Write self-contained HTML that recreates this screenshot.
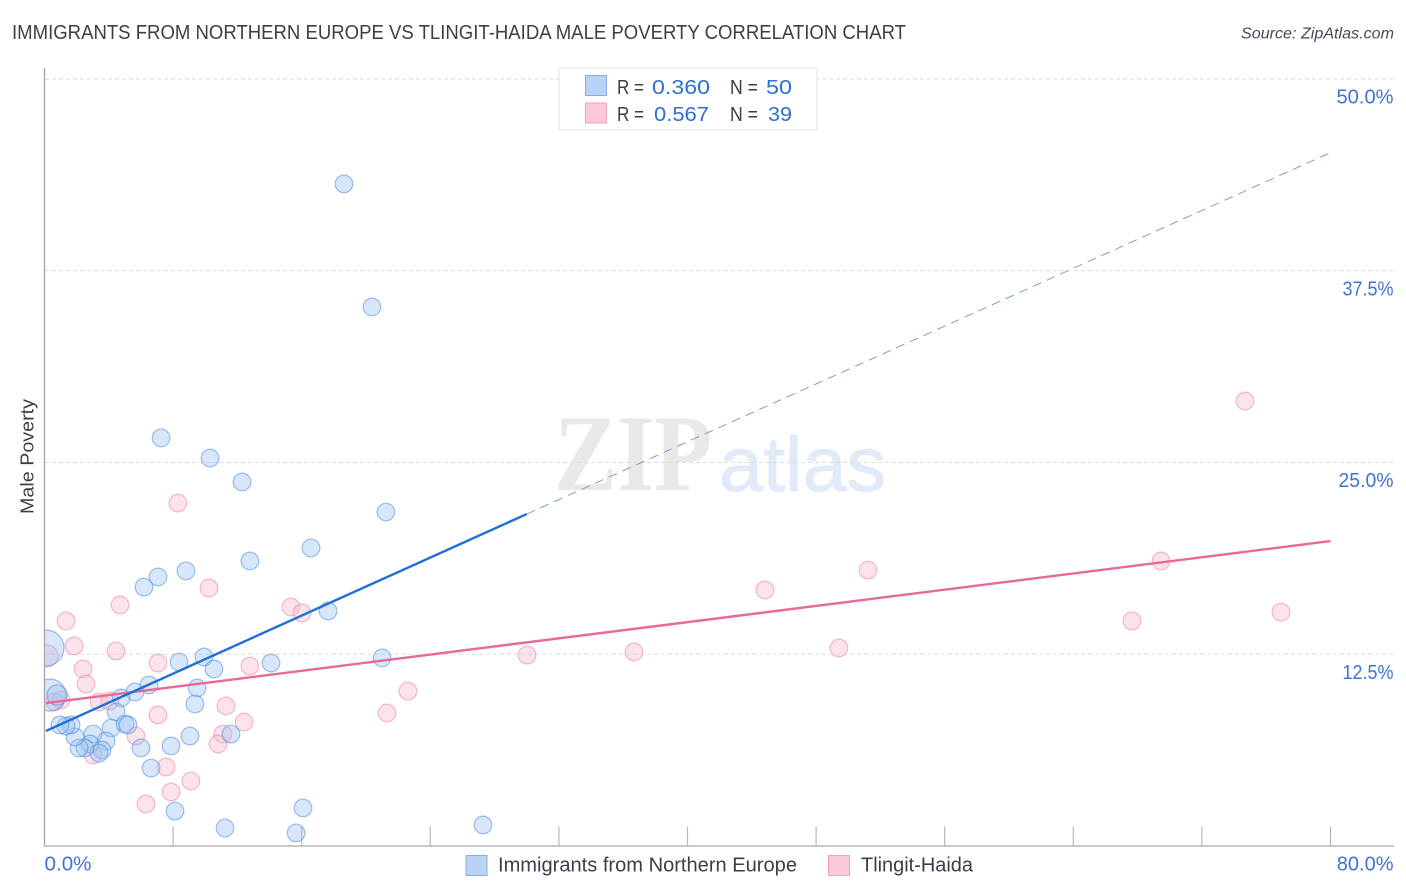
<!DOCTYPE html>
<html lang="en">
<head>
<meta charset="utf-8">
<title>Immigrants from Northern Europe vs Tlingit-Haida Male Poverty Correlation Chart</title>
<style>
html,body{margin:0;padding:0;background:#fff;width:1406px;height:892px;overflow:hidden}
svg{display:block;font-family:"Liberation Sans",sans-serif}
</style>
</head>
<body>
<svg id="chart" xmlns="http://www.w3.org/2000/svg" width="1406" height="892" viewBox="0 0 1406 892">
  <defs>
    <clipPath id="plot-clip"><rect x="45" y="60" width="1349" height="786"></rect></clipPath>
  </defs>
  <text x="12" y="39" font-size="20" fill="#3a3f4a" textLength="894" lengthAdjust="spacingAndGlyphs">IMMIGRANTS FROM NORTHERN EUROPE VS TLINGIT-HAIDA MALE POVERTY CORRELATION CHART</text>
  <text x="1241" y="38.5" font-size="15.5" font-style="italic" fill="#444a55" textLength="153" lengthAdjust="spacingAndGlyphs">Source: ZipAtlas.com</text>

  <g>
    <text x="554" y="490" font-family="'Liberation Serif',serif" font-size="109" font-weight="bold" fill="#e9e9e9" textLength="158" lengthAdjust="spacingAndGlyphs">ZIP</text>
    <text x="719" y="491" font-size="77" fill="#e1eaf9" stroke="#e1eaf9" stroke-width="1" textLength="167" lengthAdjust="spacingAndGlyphs">atlas</text>
  </g>

  <g id="grid"></g>
  <g id="axes"></g>
  <g id="pink-points" clip-path="url(#plot-clip)"></g>
  <g id="blue-points" clip-path="url(#plot-clip)"></g>
  <g id="trends"></g>
  <g id="labels"></g>

  <text transform="translate(33.5,456.5) rotate(-90)" font-size="18" fill="#3a3f4a" text-anchor="middle" textLength="115" lengthAdjust="spacingAndGlyphs">Male Poverty</text>

  <g>
    <rect x="559" y="68" width="258" height="62" fill="#fff" stroke="#e0e0e0" stroke-width="1"></rect>
    <rect x="585.5" y="75.5" width="21" height="20" fill="#b9d3f7" stroke="#86aee3" stroke-width="1"></rect>
    <rect x="585.5" y="103" width="21" height="20" fill="#fcc9da" stroke="#efa3bd" stroke-width="1"></rect>
    <text x="617" y="94" font-size="20" fill="#3a3f4a" textLength="27" lengthAdjust="spacingAndGlyphs">R =</text>
    <text x="652" y="94" font-size="20.5" fill="#2f6fd0" textLength="58" lengthAdjust="spacingAndGlyphs">0.360</text>
    <text x="730" y="94" font-size="20" fill="#3a3f4a" textLength="28" lengthAdjust="spacingAndGlyphs">N =</text>
    <text x="766" y="94" font-size="20.5" fill="#2f6fd0" textLength="26" lengthAdjust="spacingAndGlyphs">50</text>
    <text x="617" y="121" font-size="20" fill="#3a3f4a" textLength="27" lengthAdjust="spacingAndGlyphs">R =</text>
    <text x="654" y="121" font-size="20.5" fill="#2f6fd0" textLength="55" lengthAdjust="spacingAndGlyphs">0.567</text>
    <text x="730" y="121" font-size="20" fill="#3a3f4a" textLength="28" lengthAdjust="spacingAndGlyphs">N =</text>
    <text x="768" y="121" font-size="20.5" fill="#2f6fd0" textLength="24" lengthAdjust="spacingAndGlyphs">39</text>
  </g>

  <g>
    <rect x="466" y="855.5" width="21" height="20" fill="#b9d3f7" stroke="#86aee3" stroke-width="1"></rect>
    <text x="498" y="871.5" font-size="20" fill="#3a3f4a" textLength="299" lengthAdjust="spacingAndGlyphs">Immigrants from Northern Europe</text>
    <rect x="828.5" y="855.5" width="21" height="20" fill="#fcc9da" stroke="#efa3bd" stroke-width="1"></rect>
    <text x="861" y="871.5" font-size="20" fill="#3a3f4a" textLength="112" lengthAdjust="spacingAndGlyphs">Tlingit-Haida</text>
  </g>
</svg>
<script>
const blueX = [18.63,20.37,7.25,10.30,12.29,21.24,16.58,12.78,8.80,7.06,6.19,17.64,21.00,14.09,9.92,8.37,10.54,6.50,9.49,5.63,4.76,9.36,4.45,4.14,5.01,5.19,3.83,3.02,2.83,3.58,3.39,2.52,2.15,1.90,1.65,1.34,0.96,6.00,6.63,7.87,9.05,11.60,8.12,11.23,15.65,16.08,27.28,0.09,0.34,0.78];
const blueY = [43.16,35.14,26.60,25.29,23.73,21.77,19.43,18.58,17.93,17.54,16.88,15.32,12.26,11.93,12.32,11.99,11.54,10.50,10.30,10.04,9.65,9.26,8.74,7.69,7.95,7.89,6.84,7.30,6.65,6.26,6.06,6.39,6.39,7.11,7.89,7.82,7.89,6.39,5.08,6.52,7.17,7.30,2.28,1.17,0.85,2.48,1.37,12.91,9.84,9.84];
const blueWeight = [1,1,1,1,1,1,1,1,1,1,1,1,1,1,1,1,1,1,1,1,1,1,1,1,1,1,1,1,1,1,1,1,1,1,1,1,1,1,1,1,1,1,1,1,1,1,1,4.2,3.3,1.3];
const pinkX = [1.34,1.84,4.45,2.40,2.58,7.06,12.78,0.16,0.65,1.03,3.39,4.07,7.06,5.69,3.02,7.56,7.87,9.11,6.31,11.29,12.41,11.10,10.79,4.70,15.33,16.02,8.30,10.23,74.68,69.46,51.23,44.82,67.65,76.92,49.42,36.67,30.02,22.61,21.31];
const pinkY = [14.67,13.04,12.71,11.54,10.56,11.93,11.73,12.39,9.39,9.52,9.39,9.45,8.54,7.17,5.93,5.15,3.52,4.24,2.74,9.13,8.08,7.30,6.65,15.71,15.58,15.19,22.36,16.82,29.01,18.58,17.99,16.69,14.67,15.25,12.91,12.65,12.45,10.10,8.67];
const pinkWeight = [1,1,1,1,1,1,1,1.55,1,1,1,1,1,1,1,1,1,1,1,1,1,1,1,1,1,1,1,1,1,1,1,1,1,1,1,1,1,1,1];
const blueTrendX = [0.09,30.0];
const blueTrendY = [7.5,21.64];
const blueForecastX = [30.0,80.0];
const blueForecastY = [21.64,45.2];
const pinkTrendX = [0.09,80.0];
const pinkTrendY = [9.32,19.88];
const xTicks = [0,8,16,24,32,40,48,56,64,72,80];
const xTickLabels = ["0.0%","80.0%"];
const yTicks = [12.5,25,37.5,50];
const yTickLabels = ["12.5%","25.0%","37.5%","50.0%"];

const SVGNS = "http://www.w3.org/2000/svg";
const xScale = v => 44.5 + v * 16.075;
const yScale = v => 846 - v * 15.34;
const make = (tag, attrs, parent) => {
  const el = document.createElementNS(SVGNS, tag);
  for (const k in attrs) el.setAttribute(k, attrs[k]);
  parent.appendChild(el);
  return el;
};
const gridG = document.getElementById("grid");
const axesG = document.getElementById("axes");
const labelsG = document.getElementById("labels");
const trendsG = document.getElementById("trends");
const yLabelWidth = w => w === "50.0%" ? 57 : w === "25.0%" ? 55 : 51;

yTicks.forEach((t, i) => {
  const line = make("line", {x1: 45, x2: 1394, y1: yScale(t), y2: yScale(t), stroke: "#dcdcdc", "stroke-width": 1, "stroke-dasharray": "4 3"}, gridG);
  
  
  const label = make("text", {x: 1393.5 - yLabelWidth(yTickLabels[i]), y: yScale(t) + 24.5, "font-size": 20, fill: "#3f74d4", textLength: yLabelWidth(yTickLabels[i]), lengthAdjust: "spacingAndGlyphs"}, labelsG);
  
  
  label.textContent = yTickLabels[i];
});

const yAxis = make("line", {x1: 44.5, x2: 44.5, y1: 68, y2: 846.5, stroke: "#a8a8a8", "stroke-width": 1.4}, axesG);


const xAxis = make("line", {x1: 44, x2: 1394, y1: 846, y2: 846, stroke: "#a8a8a8", "stroke-width": 1.2}, axesG);


xTicks.slice(1).forEach(t => {
  const tick = make("line", {x1: xScale(t), x2: xScale(t), y1: 826.5, y2: 846, stroke: "#b8b8b8", "stroke-width": 1.2}, axesG);
  
  
});

const xLabelLeft = make("text", {x: 44.5, y: 870.5, "font-size": 20, fill: "#3f74d4", textLength: 47, lengthAdjust: "spacingAndGlyphs"}, labelsG);


xLabelLeft.textContent = xTickLabels[0];
const xLabelRight = make("text", {x: 1393.5, y: 870.5, "font-size": 20, fill: "#3f74d4", "text-anchor": "end"}, labelsG);


xLabelRight.textContent = xTickLabels[1];

const radius = w => 8.8 * Math.sqrt(w);
const pinkG = document.getElementById("pink-points");
pinkX.forEach((v, i) => {
  const c = make("circle", {cx: xScale(v), cy: yScale(pinkY[i]), r: radius(pinkWeight[i]), fill: "rgba(247,184,206,0.4)", stroke: "rgba(233,130,168,0.52)", "stroke-width": 1.3}, pinkG);
  
  
});
const blueG = document.getElementById("blue-points");
blueX.forEach((v, i) => {
  const c = make("circle", {cx: xScale(v), cy: yScale(blueY[i]), r: radius(blueWeight[i]), fill: "rgba(156,194,241,0.4)", stroke: "rgba(80,142,222,0.52)", "stroke-width": 1.3}, blueG);
  
  
});

const forecast = make("line", {x1: xScale(blueForecastX[0]), y1: yScale(blueForecastY[0]), x2: xScale(blueForecastX[1]), y2: yScale(blueForecastY[1]), stroke: "#7f9cd6", "stroke-width": 1, "stroke-dasharray": "9 6"}, trendsG);


const pinkTrend = make("line", {x1: xScale(pinkTrendX[0]), y1: yScale(pinkTrendY[0]), x2: xScale(pinkTrendX[1]), y2: yScale(pinkTrendY[1]), stroke: "#e8689a", "stroke-width": 2.4}, trendsG);


const blueTrend = make("line", {x1: xScale(blueTrendX[0]), y1: yScale(blueTrendY[0]), x2: xScale(blueTrendX[1]), y2: yScale(blueTrendY[1]), stroke: "#1f6fd8", "stroke-width": 2.4}, trendsG);


</script>
</body>
</html>
